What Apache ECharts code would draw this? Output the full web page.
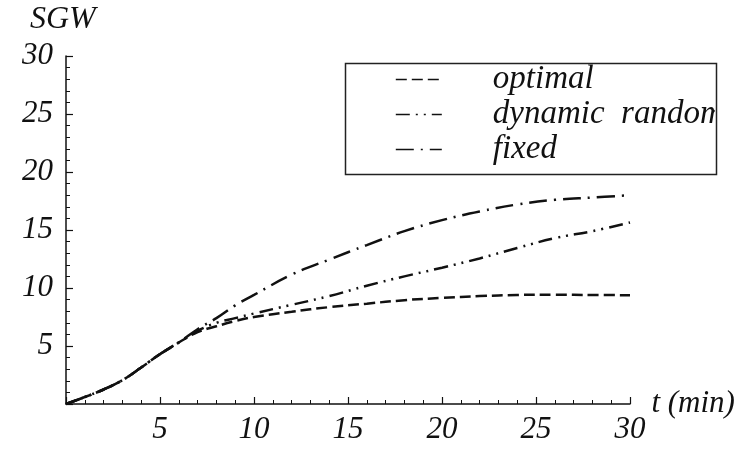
<!DOCTYPE html>
<html>
<head>
<meta charset="utf-8">
<script src="https://cdn.jsdelivr.net/npm/echarts@6/dist/echarts.min.js"></script>
<style>
  html, body { margin: 0; padding: 0; background: #fff; }
  #main { width: 752px; height: 449px; }
</style>
</head>
<body>
<div id="main"></div>
<script>
// t (min)
var times = [0, 1, 2, 3, 4, 5, 6, 7, 8, 9, 10, 12, 14, 16, 18, 20, 22, 24, 26, 28, 30];
// SGW values
var optimal = [0, 0.6, 1.25, 2.05, 3.15, 4.3, 5.3, 6.2, 6.7, 7.15, 7.5, 7.95, 8.35, 8.65, 8.95, 9.15, 9.3, 9.4, 9.42, 9.4, 9.38];
var dynamicRandom = [0, 0.6, 1.25, 2.05, 3.15, 4.3, 5.3, 6.3, 7.0, 7.4, 7.8, 8.55, 9.3, 10.2, 11.0, 11.75, 12.55, 13.45, 14.3, 14.9, 15.65];
var fixed = [0, 0.6, 1.25, 2.05, 3.15, 4.3, 5.3, 6.45, 7.4, 8.5, 9.4, 11.15, 12.45, 13.7, 14.9, 15.85, 16.6, 17.2, 17.6, 17.8, 18.0];
var names = ['optimal', 'dynamic  random', 'fixed'];

function pairs(ys) {
    return times.map(function (t, i) { return [t, ys[i]]; });
}

var serif = 'Liberation Serif';
var ink = '#111';

var myChart = echarts.init(document.getElementById('main'));

function lineSeries(name, ys, dash) {
    return {
        name: name,
        type: 'line',
        data: pairs(ys),
        smooth: 0.4,
        symbol: 'none',
        lineStyle: { color: ink, width: 2.5, type: dash },
        itemStyle: { color: ink }
    };
}

var italic = { fontFamily: serif, fontStyle: 'italic', color: ink };

var option = {
    animation: false,
    backgroundColor: '#fff',
    grid: { left: 66, right: 122, top: 56, bottom: 45 },
    legend: {
        orient: 'vertical',
        left: 390,
        top: 57,
        itemWidth: 46,
        itemHeight: 14,
        itemGap: 0,
        data: names,
        itemStyle: { opacity: 0 },
        lineStyle: { width: 1.6 },
        textStyle: Object.assign({}, italic, {
            fontSize: 33,
            lineHeight: 35,
            padding: [0, 0, 0, 46]
        })
    },
    graphic: [
        // white cover so the long legend name is cut at the frame, as in the original
        {
            type: 'rect',
            left: 715,
            top: 62,
            shape: { width: 37, height: 109 },
            style: { fill: '#fff' },
            z: 9
        },
        // legend frame
        {
            type: 'rect',
            left: 343,
            top: 61,
            shape: { width: 371, height: 111 },
            style: { fill: 'none', stroke: '#222', lineWidth: 1.5 },
            z: 10
        }
    ],
    xAxis: {
        type: 'value',
        min: 0,
        max: 30,
        interval: 5,
        name: 't (min)',
        nameLocation: 'end',
        nameGap: 18,
        nameTextStyle: Object.assign({}, italic, { fontSize: 31, verticalAlign: 'middle' }),
        axisLine: { lineStyle: { color: ink, width: 1.5 } },
        axisTick: { inside: true, length: 7, lineStyle: { color: ink, width: 1.2 } },
        minorTick: { show: true, splitNumber: 5, length: 4, lineStyle: { color: ink, width: 1 } },
        splitLine: { show: false },
        axisLabel: Object.assign({}, italic, {
            margin: 10,
            fontSize: 31,
            formatter: function (v) { return v === 0 ? '' : v; }
        })
    },
    yAxis: {
        type: 'value',
        min: 0,
        max: 30,
        interval: 5,
        name: 'SGW',
        nameLocation: 'end',
        nameGap: 20,
        nameTextStyle: Object.assign({}, italic, { fontSize: 32, align: 'left', verticalAlign: 'bottom', padding: [0, 0, 0, -36] }),
        axisLine: { lineStyle: { color: ink, width: 1.5 } },
        axisTick: { inside: true, length: 7, lineStyle: { color: ink, width: 1.2 } },
        minorTick: { show: true, splitNumber: 5, length: 4, lineStyle: { color: ink, width: 1 } },
        splitLine: { show: false },
        axisLabel: Object.assign({}, italic, {
            margin: 13,
            fontSize: 31,
            formatter: function (v) { return v === 0 ? '' : v; }
        })
    },
    series: [
        lineSeries(names[0], optimal, [11, 5]),
        lineSeries(names[1], dynamicRandom, [14, 6, 2, 6, 2, 6]),
        lineSeries(names[2], fixed, [18, 7, 2, 7])
    ]
};
myChart.setOption(option);
</script>
</body>
</html>
